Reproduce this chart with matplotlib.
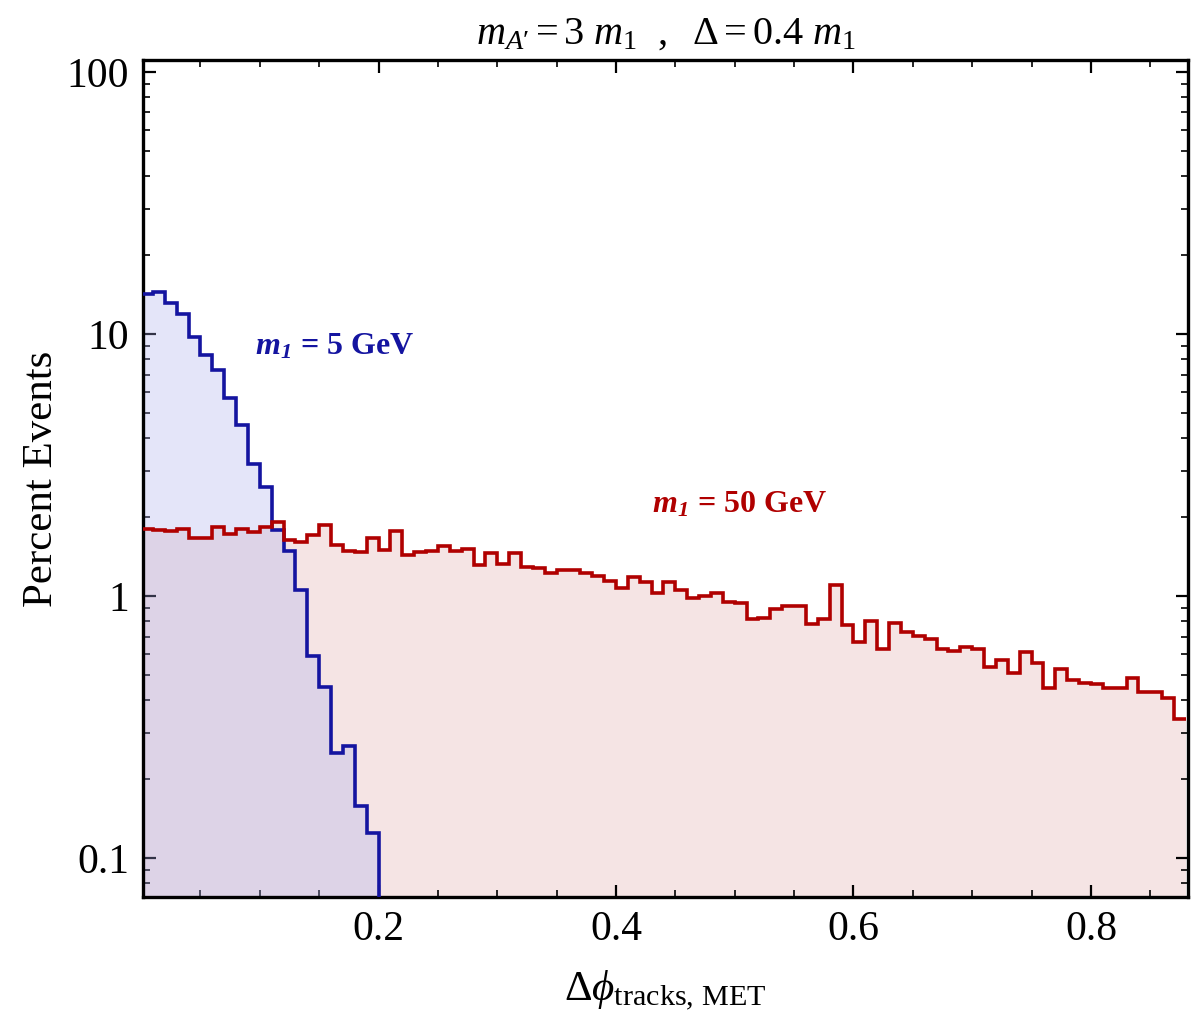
import numpy as np
import matplotlib
matplotlib.use("Agg")
import matplotlib.pyplot as plt
from matplotlib.ticker import MultipleLocator, LogLocator, NullFormatter, FixedLocator, FixedFormatter

plt.rcParams['font.family'] = ['Liberation Serif', 'DejaVu Serif']
plt.rcParams['mathtext.fontset'] = 'custom'
plt.rcParams['mathtext.rm'] = 'Liberation Serif'
plt.rcParams['mathtext.it'] = 'Liberation Serif:italic'
plt.rcParams['mathtext.bf'] = 'Liberation Serif:bold'
plt.rcParams['mathtext.bfit'] = 'Liberation Serif:bold:italic'

# ---- data (percent events per 0.01 bin in delta-phi) ----
bin_width = 0.01
blue_m5 = [14.2, 14.5, 13.1, 11.9, 9.7, 8.3, 7.3, 5.7, 4.5, 3.18,
           2.6, 1.79, 1.49, 1.05, 0.59, 0.45, 0.251, 0.267, 0.158, 0.125]
red_m50 = [1.80, 1.79, 1.77, 1.80, 1.66, 1.66, 1.83, 1.73, 1.80, 1.75,
           1.84, 1.92, 1.64, 1.61, 1.71, 1.87, 1.57, 1.49, 1.47, 1.67,
           1.50, 1.77, 1.43, 1.47, 1.49, 1.55, 1.48, 1.51, 1.31, 1.46,
           1.32, 1.46, 1.29, 1.275, 1.22, 1.26, 1.26, 1.22, 1.19, 1.14,
           1.07, 1.185, 1.13, 1.03, 1.13, 1.05, 0.985, 1.00, 1.03, 0.95,
           0.94, 0.815, 0.822, 0.89, 0.918, 0.918, 0.78, 0.817, 1.10, 0.775,
           0.67, 0.80, 0.63, 0.79, 0.727, 0.706, 0.685, 0.63, 0.617, 0.637,
           0.628, 0.537, 0.57, 0.507, 0.61, 0.553, 0.447, 0.525, 0.478, 0.467,
           0.46, 0.444, 0.444, 0.488, 0.429, 0.429, 0.407, 0.339]
blue_label = r'$\mathbfit{m}_{\mathbfit{1}}$ = 5 GeV'
red_label = r'$\mathbfit{m}_{\mathbfit{1}}$ = 50 GeV'
x_ticks = [0.2, 0.4, 0.6, 0.8]
x_ticklabels = ['0.2', '0.4', '0.6', '0.8']
y_ticks = [0.1, 1, 10, 100]
y_ticklabels = ['0.1', '1', '10', '100']

blue_edges = np.arange(len(blue_m5) + 1) * bin_width
red_edges = np.arange(len(red_m50) + 1) * bin_width

blue_line = '#1414A0'
red_line = '#B00000'

fig = plt.figure(figsize=(11.96, 10.19), dpi=100)
ax = fig.add_axes([0.1196, 0.1197, 0.8737, 0.8214])
ax.set_yscale('log')

base = 1e-3
ax.stairs(red_m50, red_edges, fill=True, baseline=base, color='#F5E4E4', linewidth=0, zorder=1)
ax.stairs(blue_m5, blue_edges, fill=True, baseline=base, color=(168/255, 172/255, 238/255),
          alpha=0.3, linewidth=0, zorder=2)
ax.stairs(blue_m5, blue_edges, baseline=base, color=blue_line, linewidth=2.6, zorder=3)
ax.stairs(red_m50, red_edges, baseline=None, color=red_line, linewidth=2.6, zorder=4)

ax.set_xlim(0.0017, 0.8817)
ax.set_ylim(0.071, 111)

ax.text(0.096, 8.9, blue_label, color=blue_line, fontsize=23, fontweight='bold',
        va='center', ha='left', zorder=5)
ax.text(0.430, 2.22, red_label, color=red_line, fontsize=23, fontweight='bold',
        va='center', ha='left', zorder=5)

ax.xaxis.set_major_locator(FixedLocator(x_ticks))
ax.xaxis.set_major_formatter(FixedFormatter(x_ticklabels))
ax.xaxis.set_minor_locator(MultipleLocator(0.05))
ax.yaxis.set_major_locator(FixedLocator(y_ticks))
ax.yaxis.set_major_formatter(FixedFormatter(y_ticklabels))
ax.yaxis.set_minor_locator(LogLocator(base=10, subs=np.arange(2, 10)))
ax.yaxis.set_minor_formatter(NullFormatter())

ax.tick_params(which='both', direction='in', top=True, right=True, labelsize=30, pad=10)
ax.tick_params(which='major', length=9, width=1.6)
ax.tick_params(which='minor', length=5, width=1.2)
for s in ax.spines.values():
    s.set_linewidth(2.4)

ax.set_ylabel('Percent Events', fontsize=31, labelpad=4)
ax.set_xlabel(r'$\Delta\phi_{\mathrm{tracks,\,MET}}$', fontsize=31, labelpad=14)
ax.set_title(r"$m_{A\prime} = 3\ m_{\mathit{1}}\ \ ,\ \ \Delta = 0.4\ m_{1}$", fontsize=29, pad=12)

fig.savefig('out.png', dpi=100)
